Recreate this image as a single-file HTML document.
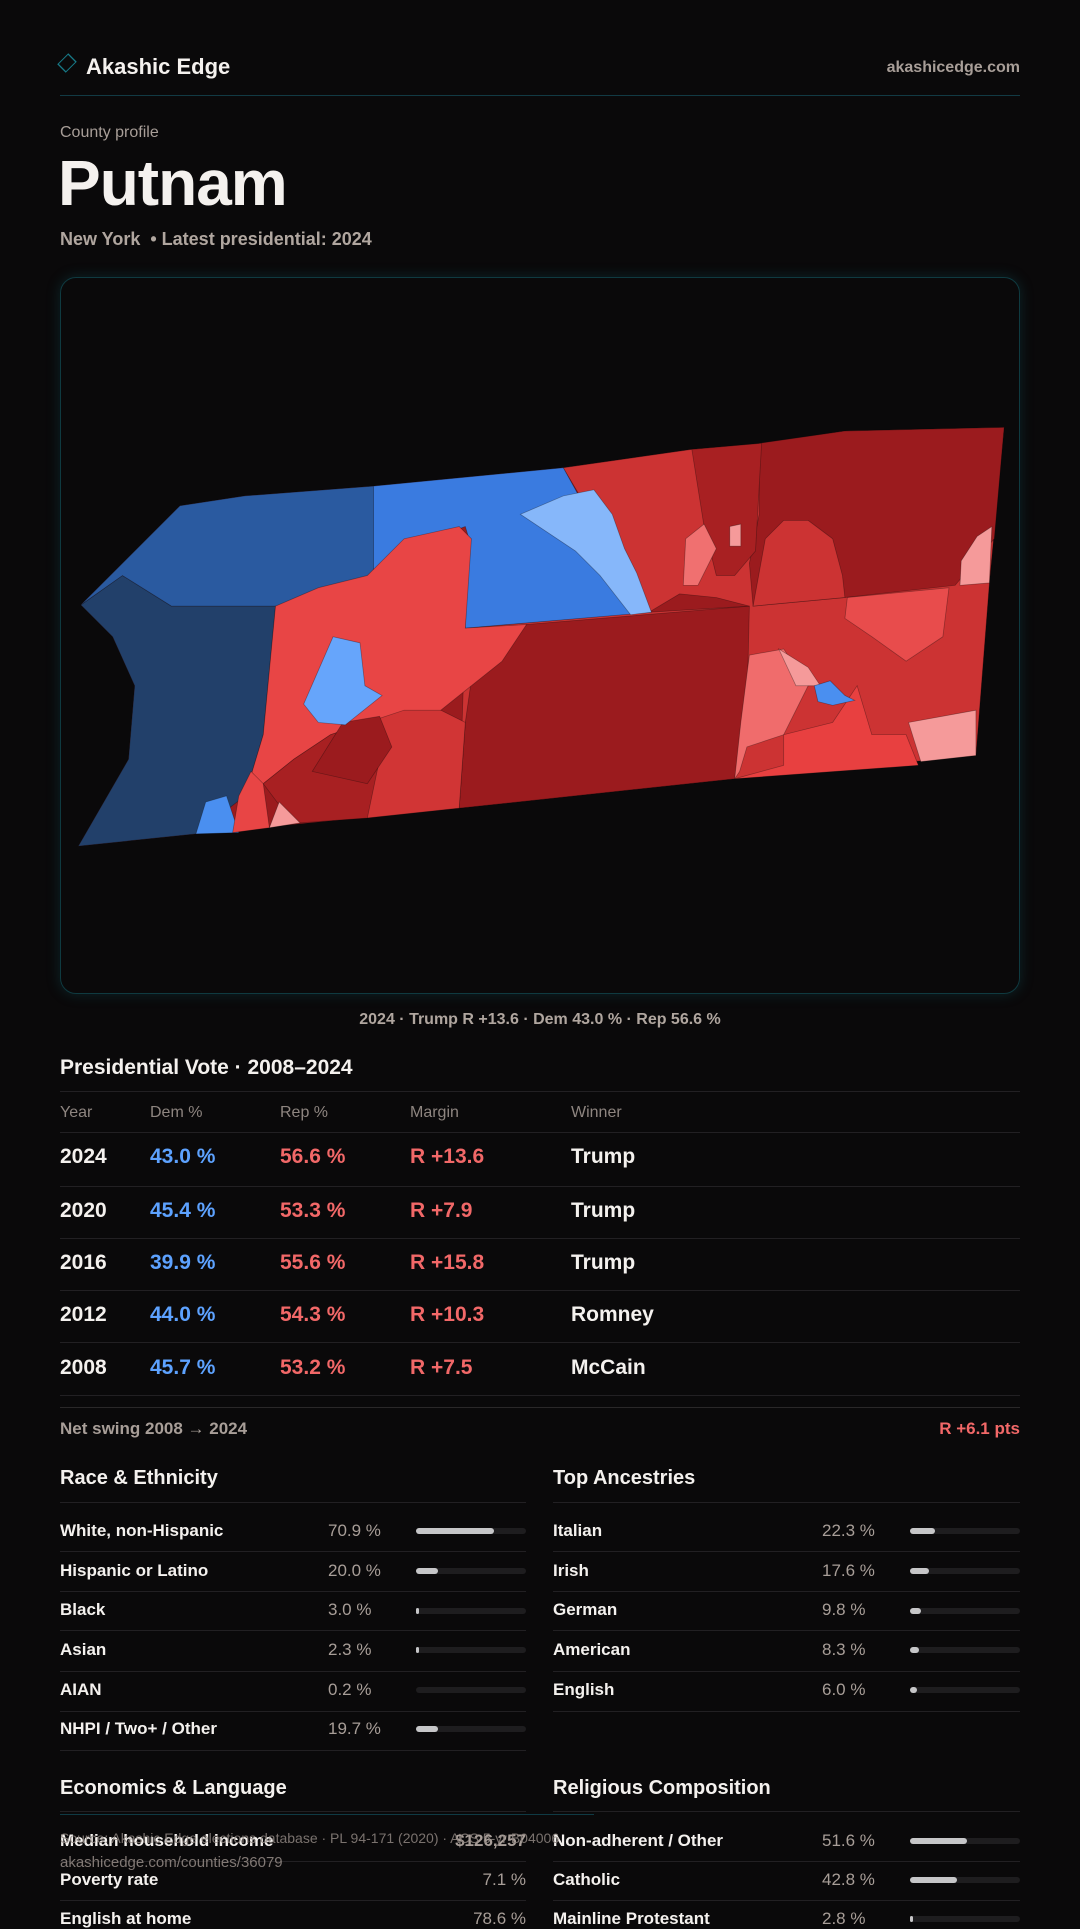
<!DOCTYPE html>
<html><head><meta charset="utf-8"><style>
*{margin:0;padding:0;box-sizing:border-box}
html,body{width:1080px;height:1920px;overflow:hidden;background:#0a090a;font-family:"Liberation Sans",sans-serif;color:#f4f1ee}
.a{position:absolute;white-space:nowrap;line-height:1.2;transform:translateY(4px)}
.g{color:#a89e98}
.ln{position:absolute;height:1px;background:#222023;transform:translateY(4px)}
.b{color:#5da2ff}.r{color:#f26868}
.trk{position:absolute;height:6px;border-radius:3px;background:#1e1d1f;transform:translateY(4px)}
.bar{position:absolute;left:0;top:0;height:6px;border-radius:3px;background:#c6c6c8}
.wrap{position:absolute;left:0;top:0;width:1080px;height:1920px}
</style></head><body>
<!-- header -->
<div style="position:absolute;left:61px;top:57px;width:12px;height:12px;border:1.5px solid #177a88;transform:rotate(45deg) scaleY(1.3)"></div>
<div class="a" style="left:86px;top:50px;font-size:22px;font-weight:bold">Akashic Edge</div>
<div class="a g" style="right:60px;top:54px;font-size:16px;font-weight:bold">akashicedge.com</div>
<div class="ln" style="left:60px;top:91px;width:960px;background:#123a44"></div>
<div class="a g" style="left:60px;top:119px;font-size:16px">County profile</div>
<div class="a" style="left:58px;top:141px;font-size:64px;font-weight:bold;letter-spacing:-1px">Putnam</div>
<div class="a" style="left:60px;top:225px;font-size:18px;font-weight:bold;color:#b0a69f">New York &nbsp;• Latest presidential: 2024</div>
<!-- map card -->
<div style="position:absolute;left:60px;top:277px;width:960px;height:717px;border:1px solid #0f3a40;border-radius:16px;box-shadow:0 0 14px rgba(20,120,130,.25)"></div>
<svg style="position:absolute;left:0;top:0" width="1080" height="1920" viewBox="0 0 882 1568">
<polygon fill="#9b1b1e" points="66,494 147,413 200,405 305,397 460,382 565,367 625,362 690,352 820,349 808,476 797,617 600,636 375,660 160,681 64,691 105,620 110,560 92,520"/>
<g stroke="#0a090a" stroke-opacity=".35" stroke-width=".6">
<polygon fill="#cc3333" points="460,382 565,367 625,362 690,352 820,349 808,476 797,617 600,636 375,660 380,513 530,500"/>
<polygon fill="#9b1b1e" points="620,362 690,352 820,349 812,440 780,478 690,488 615,495 612,460 620,420"/>
<polygon fill="#a82022" points="565,367 622,362 617,450 600,470 585,470 575,430"/>
<polygon fill="#9b1b1e" points="430,510 612,495 610,580 600,636 375,660 380,590 385,555"/>
<polygon fill="#9b1b1e" points="530,500 555,485 585,488 612,495"/>
<polygon fill="#e84c4c" points="692,488 775,480 770,520 740,540 712,520 690,505"/>
<polygon fill="#f06c6c" points="612,535 640,530 660,560 640,600 610,610 604,630 600,636 605,590"/>
<polygon fill="#e84040" points="640,600 680,590 700,560 712,600 740,600 750,625 600,636 640,625"/>
<polygon fill="#f59a9a" points="742,590 797,580 797,617 752,622"/>
<polygon fill="#f59a9a" points="636,530 660,545 670,560 650,560"/>
<polygon fill="#4a8ff0" points="665,560 678,556 690,568 698,572 680,576 668,573"/>
<polygon fill="#f07070" points="560,440 575,428 585,448 570,478 558,478"/>
<polygon fill="#f59a9a" points="596,430 605,428 605,446 596,446"/>
<polygon fill="#f59a9a" points="785,458 798,438 810,430 808,476 784,478"/>
<polygon fill="#cc3333" points="625,440 640,425 660,425 680,440 688,470 690,488 615,495"/>
<polygon fill="#22406a" points="66,494 100,470 140,495 225,495 215,600 200,650 160,681 64,691 105,620 110,560 92,520"/>
<polygon fill="#2a5aa0" points="66,494 147,413 200,405 305,397 305,475 270,488 240,505 225,495 140,495 100,470"/>
<polygon fill="#3a7be0" points="305,397 460,382 470,400 520,495 532,500 380,513 383,440 380,430 340,445 315,470 305,475"/>
<polygon fill="#86b7fa" points="425,420 460,405 485,400 500,420 510,448 520,468 532,500 515,502 490,470 470,450 455,440"/>
<polygon fill="#e84545" points="225,495 260,480 300,470 330,440 375,430 385,440 380,513 430,510 410,540 385,560 360,580 330,600 300,590 270,600 240,620 215,640 200,650 215,600"/>
<polygon fill="#d13535" points="300,590 330,580 360,580 380,590 375,660 300,668 290,640"/>
<polygon fill="#a82022" points="215,640 240,620 270,600 300,590 310,620 300,668 245,672 230,660"/>
<polygon fill="#9b1b1e" points="255,630 280,590 310,585 320,610 300,640"/>
<polygon fill="#66a5fb" points="272,520 294,525 298,560 312,568 282,592 260,590 248,575"/>
<polygon fill="#4a8ff0" points="160,681 168,655 185,650 195,680"/>
<polygon fill="#e84545" points="190,680 195,650 205,630 215,640 220,676"/>
<polygon fill="#f59a9a" points="220,676 228,655 245,672"/>
</g>
</svg>
<div class="a" style="left:0;width:1080px;text-align:center;top:1006px;font-size:16px;font-weight:bold;color:#b0a69f">2024 · Trump R +13.6 · Dem 43.0 % · Rep 56.6 %</div>
<!-- table -->
<div class="a" style="left:60px;top:1051px;font-size:21px;font-weight:bold">Presidential Vote · 2008–2024</div>
<div class="ln" style="left:60px;top:1087px;width:960px"></div>
<div class="a g" style="left:60px;top:1099px;font-size:16px;color:#8e8580">Year</div>
<div class="a g" style="left:150px;top:1099px;font-size:16px;color:#8e8580">Dem %</div>
<div class="a g" style="left:280px;top:1099px;font-size:16px;color:#8e8580">Rep %</div>
<div class="a g" style="left:410px;top:1099px;font-size:16px;color:#8e8580">Margin</div>
<div class="a g" style="left:571px;top:1099px;font-size:16px;color:#8e8580">Winner</div>
<div class="ln" style="left:60px;top:1128px;width:960px"></div>
<div style="position:absolute;left:0;top:1140px;width:1080px;font-size:21px;font-weight:bold">
<div class="a" style="left:60px;top:0">2024</div><div class="a b" style="left:150px;top:0">43.0 %</div><div class="a r" style="left:280px;top:0">56.6 %</div><div class="a r" style="left:410px;top:0">R +13.6</div><div class="a" style="left:571px;top:0">Trump</div>
<div class="a" style="left:60px;top:54px">2020</div><div class="a b" style="left:150px;top:54px">45.4 %</div><div class="a r" style="left:280px;top:54px">53.3 %</div><div class="a r" style="left:410px;top:54px">R +7.9</div><div class="a" style="left:571px;top:54px">Trump</div>
<div class="a" style="left:60px;top:106px">2016</div><div class="a b" style="left:150px;top:106px">39.9 %</div><div class="a r" style="left:280px;top:106px">55.6 %</div><div class="a r" style="left:410px;top:106px">R +15.8</div><div class="a" style="left:571px;top:106px">Trump</div>
<div class="a" style="left:60px;top:158px">2012</div><div class="a b" style="left:150px;top:158px">44.0 %</div><div class="a r" style="left:280px;top:158px">54.3 %</div><div class="a r" style="left:410px;top:158px">R +10.3</div><div class="a" style="left:571px;top:158px">Romney</div>
<div class="a" style="left:60px;top:211px">2008</div><div class="a b" style="left:150px;top:211px">45.7 %</div><div class="a r" style="left:280px;top:211px">53.2 %</div><div class="a r" style="left:410px;top:211px">R +7.5</div><div class="a" style="left:571px;top:211px">McCain</div>
</div>
<div class="ln" style="left:60px;top:1182px;width:960px"></div>
<div class="ln" style="left:60px;top:1234px;width:960px"></div>
<div class="ln" style="left:60px;top:1286px;width:960px"></div>
<div class="ln" style="left:60px;top:1338px;width:960px"></div>
<div class="ln" style="left:60px;top:1391px;width:960px"></div>
<div class="ln" style="left:60px;top:1403px;width:960px;background:#2a2829"></div>
<div class="a" style="left:60px;top:1415px;font-size:17px;font-weight:bold;color:#a89e98">Net swing 2008 → 2024</div>
<div class="a r" style="right:60px;top:1415px;font-size:17px;font-weight:bold">R +6.1 pts</div>
<!-- Race -->
<div class="a" style="left:60px;top:1462px;font-size:20px;font-weight:bold">Race &amp; Ethnicity</div>
<div class="a" style="left:553px;top:1462px;font-size:20px;font-weight:bold">Top Ancestries</div>
<div class="ln" style="left:60px;top:1498px;width:466px"></div>
<div class="ln" style="left:553px;top:1498px;width:467px"></div>
<div class="wrap" style="font-size:17px;font-weight:bold">
<div class="a" style="left:60px;top:1517px">White, non-Hispanic</div><div class="a g" style="left:328px;top:1517px;font-weight:normal">70.9 %</div>
<div class="a" style="left:60px;top:1557px">Hispanic or Latino</div><div class="a g" style="left:328px;top:1557px;font-weight:normal">20.0 %</div>
<div class="a" style="left:60px;top:1596px">Black</div><div class="a g" style="left:328px;top:1596px;font-weight:normal">3.0 %</div>
<div class="a" style="left:60px;top:1636px">Asian</div><div class="a g" style="left:328px;top:1636px;font-weight:normal">2.3 %</div>
<div class="a" style="left:60px;top:1676px">AIAN</div><div class="a g" style="left:328px;top:1676px;font-weight:normal">0.2 %</div>
<div class="a" style="left:60px;top:1715px">NHPI / Two+ / Other</div><div class="a g" style="left:328px;top:1715px;font-weight:normal">19.7 %</div>
<div class="a" style="left:553px;top:1517px">Italian</div><div class="a g" style="left:822px;top:1517px;font-weight:normal">22.3 %</div>
<div class="a" style="left:553px;top:1557px">Irish</div><div class="a g" style="left:822px;top:1557px;font-weight:normal">17.6 %</div>
<div class="a" style="left:553px;top:1596px">German</div><div class="a g" style="left:822px;top:1596px;font-weight:normal">9.8 %</div>
<div class="a" style="left:553px;top:1636px">American</div><div class="a g" style="left:822px;top:1636px;font-weight:normal">8.3 %</div>
<div class="a" style="left:553px;top:1676px">English</div><div class="a g" style="left:822px;top:1676px;font-weight:normal">6.0 %</div>
</div>
<div class="trk" style="left:416px;top:1524px;width:110px"><div class="bar" style="width:78px"></div></div>
<div class="trk" style="left:416px;top:1564px;width:110px"><div class="bar" style="width:22px"></div></div>
<div class="trk" style="left:416px;top:1604px;width:110px"><div class="bar" style="width:3px"></div></div>
<div class="trk" style="left:416px;top:1643px;width:110px"><div class="bar" style="width:3px"></div></div>
<div class="trk" style="left:416px;top:1683px;width:110px"></div>
<div class="trk" style="left:416px;top:1722px;width:110px"><div class="bar" style="width:22px"></div></div>
<div class="trk" style="left:910px;top:1524px;width:110px"><div class="bar" style="width:25px"></div></div>
<div class="trk" style="left:910px;top:1564px;width:110px"><div class="bar" style="width:19px"></div></div>
<div class="trk" style="left:910px;top:1604px;width:110px"><div class="bar" style="width:11px"></div></div>
<div class="trk" style="left:910px;top:1643px;width:110px"><div class="bar" style="width:9px"></div></div>
<div class="trk" style="left:910px;top:1683px;width:110px"><div class="bar" style="width:7px"></div></div>
<div class="ln" style="left:60px;top:1547px;width:466px"></div><div class="ln" style="left:553px;top:1547px;width:467px"></div>
<div class="ln" style="left:60px;top:1587px;width:466px"></div><div class="ln" style="left:553px;top:1587px;width:467px"></div>
<div class="ln" style="left:60px;top:1626px;width:466px"></div><div class="ln" style="left:553px;top:1626px;width:467px"></div>
<div class="ln" style="left:60px;top:1667px;width:466px"></div><div class="ln" style="left:553px;top:1667px;width:467px"></div>
<div class="ln" style="left:60px;top:1707px;width:466px"></div><div class="ln" style="left:553px;top:1707px;width:467px"></div>
<div class="ln" style="left:60px;top:1746px;width:466px"></div>
<!-- Econ / Religion -->
<div class="a" style="left:60px;top:1772px;font-size:20px;font-weight:bold">Economics &amp; Language</div>
<div class="a" style="left:553px;top:1772px;font-size:20px;font-weight:bold">Religious Composition</div>
<div class="ln" style="left:60px;top:1807px;width:466px"></div>
<div class="ln" style="left:553px;top:1807px;width:467px"></div>
<div class="wrap" style="font-size:17px;font-weight:bold">
<div class="a" style="left:60px;top:1827px">Median household income</div><div class="a g" style="right:554px;top:1827px">$126,257</div>
<div class="a" style="left:60px;top:1866px">Poverty rate</div><div class="a g" style="right:554px;top:1866px;font-weight:normal">7.1 %</div>
<div class="a" style="left:60px;top:1905px">English at home</div><div class="a g" style="right:554px;top:1905px;font-weight:normal">78.6 %</div>
<div class="a" style="left:553px;top:1827px">Non-adherent / Other</div><div class="a g" style="left:822px;top:1827px;font-weight:normal">51.6 %</div>
<div class="a" style="left:553px;top:1866px">Catholic</div><div class="a g" style="left:822px;top:1866px;font-weight:normal">42.8 %</div>
<div class="a" style="left:553px;top:1905px">Mainline Protestant</div><div class="a g" style="left:822px;top:1905px;font-weight:normal">2.8 %</div>
</div>
<div class="trk" style="left:910px;top:1834px;width:110px"><div class="bar" style="width:57px"></div></div>
<div class="trk" style="left:910px;top:1873px;width:110px"><div class="bar" style="width:47px"></div></div>
<div class="trk" style="left:910px;top:1912px;width:110px"><div class="bar" style="width:3px"></div></div>
<div class="ln" style="left:60px;top:1857px;width:466px"></div><div class="ln" style="left:553px;top:1857px;width:467px"></div>
<div class="ln" style="left:60px;top:1896px;width:466px"></div><div class="ln" style="left:553px;top:1896px;width:467px"></div>
<!-- footer overlay -->
<div class="ln" style="left:60px;top:1810px;width:534px;background:#0f3a44"></div>
<div class="a" style="left:60px;top:1826px;font-size:14px;color:#8e8580;opacity:.85">Source: Akashic Edge elections database · PL 94-171 (2020) · ACS 5-yr B04006</div>
<div class="a" style="left:60px;top:1850px;font-size:15px;color:#8e8580;opacity:.9">akashicedge.com/counties/36079</div>
</body></html>
